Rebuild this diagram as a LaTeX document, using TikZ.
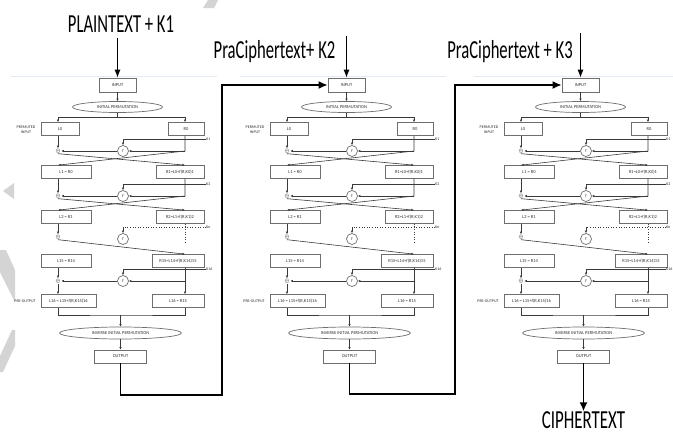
\documentclass[tikz,border=0pt]{standalone}
\usepackage{fontspec}
\setmainfont{Carlito}
\usetikzlibrary{arrows.meta,shapes.geometric}

\definecolor{boxline}{HTML}{6E6E6E}
\definecolor{flowline}{HTML}{3A3A3A}
\definecolor{smalltext}{HTML}{2E2E2E}
\definecolor{rulegray}{HTML}{E3EAF1}
\definecolor{markgray}{HTML}{D4D4D4}

\tikzset{
  smallfont/.style={font=\fontsize{4.5}{5}\selectfont, text=smalltext},
  blk/.style={draw=boxline, line width=0.7pt, fill=white, inner sep=0pt, smallfont, minimum height=13pt},
  ipell/.style={ellipse, draw=boxline, line width=0.7pt, fill=white, inner sep=0pt, smallfont},
  fcirc/.style={circle, draw=boxline, line width=0.7pt, fill=white, inner sep=0pt, minimum size=11pt, smallfont},
  sidelbl/.style={inner sep=0pt, font=\fontsize{4}{4.6}\selectfont, text=smalltext, align=center},
  xorlbl/.style={inner sep=0.4pt, font=\fontsize{3.5}{4}\selectfont, text=smalltext},
  ln/.style={draw=flowline, line width=0.6pt},
  arr/.style={-{Latex[length=2.6pt,width=2.4pt]}},
  dots/.style={dotted, line width=0.6pt},
  conn/.style={draw=black, line width=1.5pt, -{Latex[length=9pt,width=8pt]}},
  tarr/.style={draw=black, line width=0.9pt, -{Latex[length=8pt,width=6pt]}},
  title/.style={inner sep=0pt, font=\fontsize{26}{28}\selectfont},
}

\begin{document}
\begin{tikzpicture}[x=1pt,y=-1pt]
\useasboundingbox (0,0) rectangle (673,434);
\fill[white] (0,0) rectangle (673,434);

% faint grey marks along the left edge and the top
\fill[markgray] (14,183) -- (3,191) -- (14,199) -- cycle;
\fill[markgray] (0,250) -- (6,250) -- (15,270) -- (15,302) -- (0,272) -- cycle;
\fill[markgray] (12,330) -- (15,330) -- (15,346) -- (3,372) -- (0,372) -- (0,356) -- cycle;
\fill[markgray] (203,8) -- (208,0) -- (218,0) -- (214,8) -- cycle;

% the three DES stages, side by side (\kx: where the key labels start)
\foreach \c/\o/\kx in {1/0/206,2/229/206,3/463/203}{
\begin{scope}[xshift=\o pt]
  \draw[rulegray, line width=0.8pt] (11,76) -- (217,76);
  \coordinate (lx\c) at (58,0);
  \coordinate (rx\c) at (185,0);

  \node[blk, minimum width=37pt, minimum height=14pt] (in\c) at (117.5,85) {INPUT};
  \node[ipell, minimum width=90pt, minimum height=11pt] (ip\c) at (117.5,107) {INITIAL PERMUTATION};
  \draw[ln,arr] (in\c) -- (ip\c);

  % permuted input
  \node[sidelbl] (pin\c) at (26,130) {PERMUTED\\INPUT};
  \node[blk, minimum width=38pt] (l0\c) at (60,129) {L0};
  \node[blk, minimum width=36pt] (r0\c) at (186,129) {R0};
  \coordinate (bar\c) at (117.5,117);
  \draw[ln] (ip\c.south) -- (bar\c);
  \draw[ln,arr] (bar\c) -| (l0\c.north -| lx\c);
  \draw[ln,arr] (bar\c) -| (r0\c.north -| rx\c);

  % round 1
  \node[sidelbl, anchor=west] (k1\c) at (\kx,139) {K1};
  \node[fcirc] (f1\c) at (123,151) {f};
  \node[xorlbl] (x1\c) at (58,151) {$\oplus$};
  \coordinate (rb1\c) at (185,151);
  \node[blk, minimum width=50pt] (l1\c) at (66,172) {L1 = R0};
  \node[blk, minimum width=48pt] (r1\c) at (180,172) {R1=L0+f(R,K0)1};
  \draw[ln,arr] (k1\c.west) -| (f1\c.north);
  \draw[ln,arr] (l0\c.south -| lx\c) -- (x1\c.north);
  \draw[ln,arr] (rb1\c) -- (f1\c.east);
  \draw[ln,arr] (f1\c.west) -- (x1\c.east);
  \draw[ln,arr] (r0\c.south -| rx\c) -- (rb1\c) -- (l1\c.north -| lx\c);
  \draw[ln,arr] (x1\c.south) -- (r1\c.north -| rx\c);

  % round 2
  \node[sidelbl, anchor=west] (k2\c) at (\kx,184) {K2};
  \node[fcirc] (f2\c) at (123,196) {f};
  \node[xorlbl] (x2\c) at (58,196) {$\oplus$};
  \coordinate (rb2\c) at (185,196);
  \node[blk, minimum width=50pt] (l2\c) at (66,217) {L2 = R1};
  \node[blk, minimum width=48pt] (r2\c) at (180,217) {R2=L1+f(R,K1)2};
  \draw[ln,arr] (k2\c.west) -| (f2\c.north);
  \draw[ln,arr] (l1\c.south -| lx\c) -- (x2\c.north);
  \draw[ln,arr] (rb2\c) -- (f2\c.east);
  \draw[ln,arr] (f2\c.west) -- (x2\c.east);
  \draw[ln,arr] (r1\c.south -| rx\c) -- (rb2\c) -- (l2\c.north -| lx\c);
  \draw[ln,arr] (x2\c.south) -- (r2\c.north -| rx\c);

  % rounds 3 to 15, shown dotted
  \node[sidelbl, anchor=west] (kn\c) at (\kx,227) {Kn};
  \node[fcirc] (fn\c) at (123,239) {f};
  \node[xorlbl] (xn\c) at (58,237) {$\oplus$};
  \coordinate (kc\c) at (123,227);
  \coordinate (rd\c) at (185,244);
  \node[blk, minimum width=50pt] (l15\c) at (66,261) {L15 = R14};
  \node[blk, minimum width=52pt] (r15\c) at (178,261) {R15=L14+f(R,K14)15};
  \draw[ln,dots] (kn\c.west) -- (kc\c);
  \draw[ln,arr] (kc\c) -- (fn\c.north);
  \draw[ln,dots] (r2\c.south -| rx\c) -- (rd\c);
  \draw[ln,arr] (l2\c.south -| lx\c) -- (xn\c.north);
  \draw[ln,arr] (xn\c.south) -- (r15\c.north -| rx\c);

  % round 16
  \node[sidelbl, anchor=west] (k16\c) at (\kx,269) {K16};
  \node[fcirc] (f16\c) at (123,281) {f};
  \node[xorlbl] (x16\c) at (58,281) {$\oplus$};
  \coordinate (rb16\c) at (185,281);
  \node[sidelbl] (po\c) at (25,301) {PRE-OUTPUT};
  \node[blk, minimum width=55pt] (l16\c) at (68.5,301) {L16 = L15+f(R,K15)16};
  \node[blk, minimum width=52pt] (r16\c) at (178,301) {L16 = R15};
  \draw[ln,arr] (k16\c.west) -| (f16\c.north);
  \draw[ln,arr] (l15\c.south -| lx\c) -- (x16\c.north);
  \draw[ln,arr] (x16\c.south) -- (l16\c.north -| lx\c);
  \draw[ln,arr] (rb16\c) -- (f16\c.east);
  \draw[ln,arr] (f16\c.west) -- (x16\c.east);
  \draw[ln,arr] (r15\c.south -| rx\c) -- (r16\c.north -| rx\c);

  % inverse permutation and output
  \coordinate (bot\c) at (120.5,315);
  \node[ipell, minimum width=122pt, minimum height=12pt] (iip\c) at (120.5,333) {INVERSE INITIAL PERMUTATION};
  \node[blk, minimum width=52pt] (out\c) at (120.5,356.5) {OUTPUT};
  \draw[ln] (l16\c.south -| lx\c) |- (bot\c) -| (r16\c.south -| rx\c);
  \draw[ln,arr] (bot\c) -- (iip\c.north);
  \draw[ln,arr] (iip\c.south) -- (out\c.north);
\end{scope}
}

% stage inputs
\node[title] (t1) at (121,24) {\scalebox{0.64}[1]{PLAINTEXT + K1}};
\node[title] (t2) at (274.5,52) {\scalebox{0.64}[1]{PraCiphertext+ K2}};
\node[title] (t3) at (510,52) {\scalebox{0.64}[1]{PraCiphertext + K3}};
\coordinate (a1) at (117.5,38);
\coordinate (a2) at (346.5,36);
\coordinate (a3) at (580.5,33);
\draw[tarr] (a1) -- (in1.north);
\draw[tarr] (a2) -- (in2.north);
\draw[tarr] (a3) -- (in3.north);

% output of one stage feeds the next
\coordinate (c1) at (222,395);
\coordinate (c2) at (455,394);
\draw[conn] (out1.south) |- (c1) |- (in2.west);
\draw[conn] (out2.south) |- (c2) |- (in3.west);

\node[title] (ct) at (583.5,420) {\scalebox{0.65}[1]{CIPHERTEXT}};
\draw[conn] (out3.south) -- (ct.north);
\end{tikzpicture}
\end{document}
